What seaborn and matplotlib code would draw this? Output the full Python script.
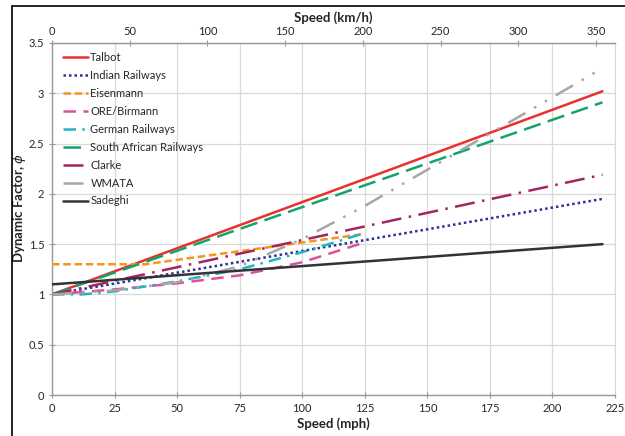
import matplotlib
matplotlib.use("Agg")
import matplotlib.pyplot as plt
from matplotlib.lines import Line2D
import seaborn as sns
import pandas as pd
import numpy as np

# ---- data (speed in mph, dynamic factor) ----
talbot_x = [0, 220]
talbot_y = [1.0, 3.02]
indian_x = [0, 220]
indian_y = [1.0, 1.95]
eisen_x = [0, 37.3, 124.3]
eisen_y = [1.3, 1.3, 1.6]
ore_x = [0, 25, 50, 75, 100, 124]
ore_y = [1.0, 1.05, 1.11, 1.19, 1.32, 1.51]
german_x = [0, 12, 25, 50, 75, 100, 125]
german_y = [1.0, 1.0, 1.03, 1.13, 1.25, 1.42, 1.61]
sar_x = [0, 220]
sar_y = [1.0, 2.91]
clarke_x = [0, 220]
clarke_y = [1.0, 2.19]
wmata_x = [0, 25, 50, 75, 100, 125, 150, 175, 200, 220]
wmata_y = [1.0, 1.04, 1.12, 1.28, 1.55, 1.88, 2.24, 2.6, 2.96, 3.25]
sadeghi_x = [0, 220]
sadeghi_y = [1.1, 1.5]

names = ["Talbot", "Indian Railways", "Eisenmann", "ORE/Birmann", "German Railways",
         "South African Railways", "Clarke", "WMATA", "Sadeghi"]
xs = [talbot_x, indian_x, eisen_x, ore_x, german_x, sar_x, clarke_x, wmata_x, sadeghi_x]
ys = [talbot_y, indian_y, eisen_y, ore_y, german_y, sar_y, clarke_y, wmata_y, sadeghi_y]

colors = {"Talbot": "#e8312f", "Indian Railways": "#2e3192", "Eisenmann": "#f7941d",
          "ORE/Birmann": "#e0509a", "German Railways": "#1fb5c9",
          "South African Railways": "#13a36b", "Clarke": "#a3245f",
          "WMATA": "#a6a6a6", "Sadeghi": "#333333"}
dashes = {"Talbot": "", "Indian Railways": (1, 1.2), "Eisenmann": (3, 1.5),
          "ORE/Birmann": (5, 3), "German Railways": (5, 2.5, 1, 2.5),
          "South African Railways": (7, 3), "Clarke": (8, 3, 1, 3),
          "WMATA": (8, 4, 1, 4, 1, 4), "Sadeghi": ""}

rows = []
for n, xv, yv in zip(names, xs, ys):
    for a, b in zip(xv, yv):
        rows.append({"Speed": a, "Phi": b, "Model": n})
df = pd.DataFrame(rows)

sns.set_style("white")
plt.rcParams['font.family'] = ['Lato', 'DejaVu Sans']

fig = plt.figure(figsize=(6.25, 4.36), dpi=100)
ax = fig.add_axes([52/625, 41/436, 563/625, 352/436])

sns.lineplot(data=df, x="Speed", y="Phi", hue="Model", style="Model",
             hue_order=names, style_order=names, palette=colors, dashes=dashes,
             sort=False, estimator=None, linewidth=1.8, ax=ax, zorder=3)

ax.set_xlim(0, 225)
ax.set_ylim(0, 3.5)
ax.set_xticks(np.arange(0, 226, 25))
ax.set_yticks(np.arange(0, 3.51, 0.5))
ax.set_yticklabels(["0", "0.5", "1", "1.5", "2", "2.5", "3", "3.5"])
ax.grid(True, color="#d9d9d9", linewidth=0.9, zorder=0)
ax.set_axisbelow(True)
for s in ["left", "bottom", "top"]:
    ax.spines[s].set_color("#999999")
    ax.spines[s].set_linewidth(1.0)
ax.spines["right"].set_color("#d9d9d9")
ax.tick_params(axis="both", which="both", direction="inout", length=5, width=0.8,
               color="#999999", labelsize=8, pad=3, left=True, bottom=True)

ax.set_xlabel("Speed (mph)", fontsize=9.5, fontweight="bold", labelpad=3)
ax.set_ylabel(r"Dynamic Factor, $\phi$", fontsize=9.5, fontweight="bold")
ax.yaxis.set_label_coords(-24/563, 0.53)

sec = ax.secondary_xaxis("top", functions=(lambda m: m * 1.609344, lambda k: k / 1.609344))
sec.set_xticks(np.arange(0, 351, 50))
sec.tick_params(direction="inout", length=5, width=0.8, color="#999999", labelsize=8, pad=2)
sec.spines["top"].set_color("#999999")
sec.set_xlabel("Speed (km/h)", fontsize=9.5, fontweight="bold", labelpad=3)

handles, labels = ax.get_legend_handles_labels()
ax.legend(handles, labels, loc="upper left", frameon=False, fontsize=8,
          handlelength=2.2, labelspacing=0.62, handletextpad=0.25,
          bbox_to_anchor=(0.0, 1.005), borderaxespad=0.6)

# figure border (cropped frame)
fig.add_artist(Line2D([12/625, 12/625], [0, 1 - 6/436], color="black", lw=1.2,
                      transform=fig.transFigure))
fig.add_artist(Line2D([12/625, 1], [1 - 6/436, 1 - 6/436], color="black", lw=1.2,
                      transform=fig.transFigure))

fig.savefig("out.png", dpi=100)
